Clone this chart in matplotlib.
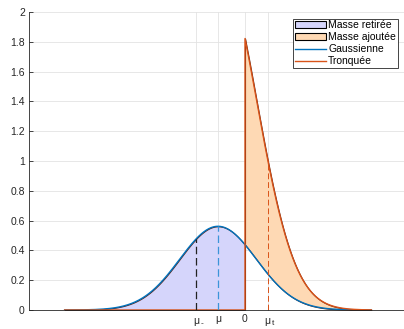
import numpy as np
import matplotlib
matplotlib.use("Agg")
import matplotlib.pyplot as plt
from math import erf

plt.rcParams["font.family"] = ["Liberation Sans", "DejaVu Sans"]

# Gaussian parameters
MU = -0.5
SIGMA = 0.71
X_CUT = 0.0

# marker positions
MU_MINUS = -0.91
MU_T = 0.42
tick_pos = [MU_MINUS, MU, X_CUT, MU_T]

y_ticks = [0, 0.2, 0.4, 0.6, 0.8, 1, 1.2, 1.4, 1.6, 1.8, 2]
y_tick_labels = ["0", "0.2", "0.4", "0.6", "0.8", "1", "1.2", "1.4", "1.6", "1.8", "2"]

C_GAUSS = "#0072BD"
C_TRUNC = "#D95319"
C_FILL_REM = "#d5d5fb"
C_FILL_ADD = "#fed9b4"


def gauss(x):
    return np.exp(-0.5 * ((x - MU) / SIGMA) ** 2) / (SIGMA * np.sqrt(2 * np.pi))


kept = 1 - 0.5 * (1 + erf((X_CUT - MU) / SIGMA / np.sqrt(2)))

x_lo = MU - 4 * SIGMA
x_hi = MU + 4 * SIGMA
x_left = np.linspace(x_lo, X_CUT, 300)
x_right = np.linspace(X_CUT, x_hi, 300)
x_all = np.concatenate([x_left, x_right])

g_all = gauss(x_all)
t_all = np.concatenate([np.zeros_like(x_left), gauss(x_right) / kept])

fig = plt.figure(figsize=(4.04, 3.29), dpi=100)
ax = fig.add_axes([29 / 404, 19 / 329, 378 / 404, 298 / 329])

# removed mass (left of cut, under gaussian)
ax.fill_between(x_left, 0, gauss(x_left), facecolor=C_FILL_REM,
                edgecolor="#5a2010", linewidth=0.8, label="Masse retirée")
# added mass (right of cut, between gaussian and truncated)
ax.fill_between(x_right, gauss(x_right), gauss(x_right) / kept,
                facecolor=C_FILL_ADD, edgecolor="#5a2010", linewidth=0.8,
                label="Masse ajoutée")

ax.plot(x_all, g_all, color=C_GAUSS, lw=1.0, label="Gaussienne")
ax.plot(x_all, t_all, color=C_TRUNC, lw=1.0, label="Tronquée")

dash = (0, (6, 3))
ax.vlines(MU_MINUS, 0, gauss(MU_MINUS), colors="#222222", linestyles=dash, lw=0.9)
ax.vlines(MU, 0, gauss(MU), colors="#3b94d9", linestyles=dash, lw=0.9)
ax.vlines(MU_T, 0, gauss(MU_T) / kept, colors=C_TRUNC, linestyles=dash, lw=0.7)

ax.set_xlim(-4, 3)
ax.set_ylim(0, 2)
ax.set_xticks(tick_pos)
ax.set_xticklabels(["", "μ", "0", ""])
ax.set_yticks(y_ticks)
ax.set_yticklabels(y_tick_labels)
ax.tick_params(direction="in", length=3, width=0.6, labelsize=7.5,
               colors="#262626", pad=3)
ax.grid(True, color="#e3e3e3", lw=0.6)
ax.set_axisbelow(True)

# tick labels with subscripts
trans = ax.get_xaxis_transform()
for pos, sub in [(MU_MINUS, "-"), (MU_T, "t")]:
    ax.annotate("μ", xy=(pos, 0), xycoords=trans, xytext=(0, -4),
                textcoords="offset points", ha="center", va="top",
                fontsize=7.5, color="#262626")
    ax.annotate(sub, xy=(pos, 0), xycoords=trans, xytext=(3.2, -7.5),
                textcoords="offset points", ha="left", va="top",
                fontsize=6, color="#262626")

for s in ["top", "right"]:
    ax.spines[s].set_visible(False)
for s in ["left", "bottom"]:
    ax.spines[s].set_color("#262626")
    ax.spines[s].set_linewidth(0.6)

leg = ax.legend(loc="upper right", bbox_to_anchor=(0.975, 0.978), fontsize=7.5,
                handlelength=3.0, handletextpad=0.2, labelspacing=0.2,
                borderpad=0.15, borderaxespad=0, fancybox=False, framealpha=1)
leg.get_frame().set_edgecolor("#262626")
leg.get_frame().set_linewidth(0.6)
for h in leg.legend_handles[:2]:
    h.set_edgecolor("black")

fig.savefig("out.png", dpi=100)
